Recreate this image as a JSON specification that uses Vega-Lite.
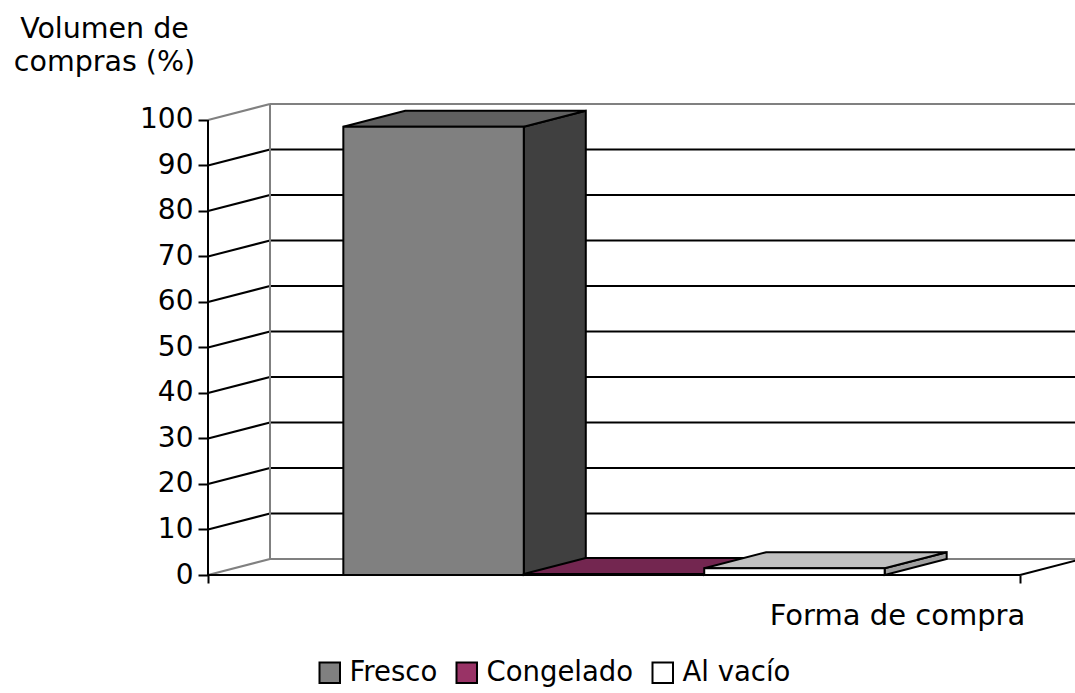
{
  "$schema": "https://vega.github.io/schema/vega-lite/v6.json",
  "autosize": {"type": "none"},
  "width": 867,
  "height": 471,
  "padding": {"left": 208, "top": 104, "right": 0, "bottom": 118},
  "background": "white",
  "config": {"view": {"stroke": null}, "font": "DejaVu Sans"},
  "datasets": {
    "ticks": [{"t": 0}, {"t": 10}, {"t": 20}, {"t": 30}, {"t": 40}, {"t": 50}, {"t": 60}, {"t": 70}, {"t": 80}, {"t": 90}, {"t": 100}],
    "datos": [
      {"forma": "Fresco", "valor": 98.5},
      {"forma": "Congelado", "valor": 0.2},
      {"forma": "Al vacío", "valor": 1.5}
    ]
  },
  "layer": [
    {
      "data": {"name": "ticks"},
      "transform": [{"calculate": "datum.t + 3.516", "as": "tb"}],
      "mark": {"type": "rule", "strokeWidth": 2, "color": "black"},
      "encoding": {
        "x": {"datum": 0, "type": "quantitative", "scale": {"domain": [0, 3.2032], "nice": false, "zero": false}, "axis": {"orient": "bottom", "values": [0, 3], "labels": false, "domain": false, "grid": false, "ticks": true, "tickColor": "black", "tickWidth": 2, "tickSize": 8, "title": "Forma de compra", "titleFontSize": 29, "titleFontWeight": "normal", "titleColor": "black", "titleAlign": "center", "titleBaseline": "alphabetic", "titleX": 689, "titleY": 49}},
        "x2": {"datum": 0.2291},
        "y": {"field": "t", "type": "quantitative", "scale": {"domain": [0, 103.516], "nice": false, "zero": false}, "axis": {"orient": "left", "values": [0, 10, 20, 30, 40, 50, 60, 70, 80, 90, 100], "domain": false, "grid": false, "tickColor": "black", "tickWidth": 2, "tickSize": 10, "labelFontSize": 28, "labelColor": "black", "labelPadding": 5, "title": ["Volumen de", "compras (%)"], "titleAngle": 0, "titleFontSize": 28.5, "titleFontWeight": "normal", "titleColor": "black", "titleAlign": "center", "titleBaseline": "alphabetic", "titleLineHeight": 33, "titleX": -104, "titleY": -67}},
        "y2": {"field": "tb"},
        "color": {"condition": {"test": "datum.t == 0 || datum.t == 100", "value": "#808080"}, "value": "black"}
      }
    },
    {
      "data": {"name": "ticks"},
      "transform": [{"calculate": "datum.t + 3.516", "as": "tb"}],
      "mark": {"type": "rule", "strokeWidth": 2},
      "encoding": {
        "x": {"datum": 0.2291, "type": "quantitative"},
        "x2": {"datum": 3.2032},
        "y": {"field": "tb", "type": "quantitative"},
        "color": {"condition": {"test": "datum.t == 0 || datum.t == 100", "value": "#808080"}, "value": "black"}
      }
    },
    {
      "data": {"values": [{}]},
      "mark": {"type": "rule", "strokeWidth": 2, "color": "#808080"},
      "encoding": {
        "x": {"datum": 0.2291, "type": "quantitative"},
        "y": {"datum": 3.516, "type": "quantitative"},
        "y2": {"datum": 103.516}
      }
    },
    {
      "data": {"values": [{}]},
      "mark": {"type": "rule", "strokeWidth": 2, "color": "black"},
      "encoding": {
        "x": {"datum": 0, "type": "quantitative"},
        "y": {"datum": 0, "type": "quantitative"},
        "y2": {"datum": 100}
      }
    },
    {
      "data": {"values": [{}]},
      "mark": {"type": "rule", "strokeWidth": 2, "color": "black"},
      "encoding": {
        "x": {"datum": 0, "type": "quantitative"},
        "x2": {"datum": 3},
        "y": {"datum": 0, "type": "quantitative"}
      }
    },
    {
      "data": {"values": [{}]},
      "mark": {"type": "rule", "strokeWidth": 2, "color": "black", "clip": false},
      "encoding": {
        "x": {"datum": 3, "type": "quantitative"},
        "x2": {"datum": 3.2291},
        "y": {"datum": 0, "type": "quantitative"},
        "y2": {"datum": 3.516}
      }
    },
    {
      "data": {"name": "datos"},
      "transform": [
        {"window": [{"op": "row_number", "as": "i"}]},
        {"calculate": "0.5 + datum.i * 2 / 3", "as": "x1"},
        {"calculate": "[0, 1]", "as": "k"},
        {"flatten": ["k"]},
        {"calculate": "datum.x1 + datum.k * 0.2291", "as": "sx"},
        {"calculate": "datum.k * 3.516", "as": "sy"},
        {"calculate": "datum.valor + datum.k * 3.516", "as": "sy2"}
      ],
      "mark": {"type": "area", "orient": "vertical", "stroke": "black", "strokeWidth": 2, "strokeJoin": "miter", "fillOpacity": 1},
      "encoding": {
        "x": {"field": "sx", "type": "quantitative"},
        "y": {"field": "sy", "type": "quantitative"},
        "y2": {"field": "sy2"},
        "fill": {"field": "forma", "type": "nominal", "scale": {"domain": ["Fresco", "Congelado", "Al vacío"], "range": ["#404040", "#4d1a33", "#a0a0a0"]}, "legend": null}
      }
    },
    {
      "data": {"name": "datos"},
      "transform": [
        {"window": [{"op": "row_number", "as": "i"}]},
        {"calculate": "0.5 + (datum.i - 1) * 2 / 3", "as": "x0"},
        {"calculate": "0.5 + datum.i * 2 / 3", "as": "x1"},
        {"calculate": "[0, 1]", "as": "k"},
        {"flatten": ["k"]},
        {"calculate": "datum.x0 + datum.k * 0.2291", "as": "tx"},
        {"calculate": "datum.x1 + datum.k * 0.2291", "as": "tx2"},
        {"calculate": "datum.valor + datum.k * 3.516", "as": "ty"}
      ],
      "mark": {"type": "area", "orient": "horizontal", "stroke": "black", "strokeWidth": 2, "strokeJoin": "miter", "fillOpacity": 1},
      "encoding": {
        "y": {"field": "ty", "type": "quantitative"},
        "x": {"field": "tx", "type": "quantitative"},
        "x2": {"field": "tx2"},
        "fill": {"field": "forma", "type": "nominal", "scale": {"domain": ["Fresco", "Congelado", "Al vacío"], "range": ["#606060", "#732650", "#c0c0c0"]}, "legend": null}
      }
    },
    {
      "data": {"name": "datos"},
      "transform": [
        {"window": [{"op": "row_number", "as": "i"}]},
        {"calculate": "0.5 + (datum.i - 1) * 2 / 3", "as": "x0"},
        {"calculate": "0.5 + datum.i * 2 / 3", "as": "x1"}
      ],
      "mark": {"type": "rect", "stroke": "black", "strokeWidth": 2, "fillOpacity": 1},
      "encoding": {
        "x": {"field": "x0", "type": "quantitative"},
        "x2": {"field": "x1"},
        "y": {"field": "valor", "type": "quantitative"},
        "y2": {"datum": 0},
        "fill": {"field": "forma", "type": "nominal", "scale": {"domain": ["Fresco", "Congelado", "Al vacío"], "range": ["#808080", "#993366", "#ffffff"]},
          "legend": {"title": null, "orient": "none", "direction": "horizontal", "legendX": 108, "legendY": 555, "symbolType": "square", "symbolSize": 420, "symbolStrokeColor": "black", "symbolStrokeWidth": 2, "symbolOpacity": 1, "labelFontSize": 27.5, "labelColor": "black", "labelOffset": 6, "columnPadding": 14, "labelLimit": 400}}
      }
    }
  ],
  "resolve": {"scale": {"fill": "independent"}}
}
